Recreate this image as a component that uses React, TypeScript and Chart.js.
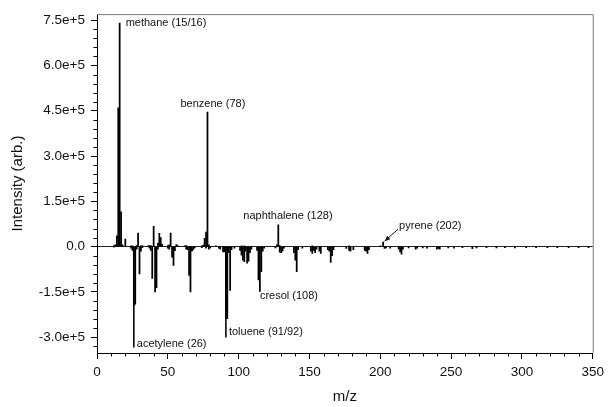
import React, { useEffect, useRef } from "react";
import { Chart, registerables } from "chart.js";

Chart.register(...registerables);

// ---- Data ----
// Upper spectrum (positive intensities)
const UPPER_MZ = [12, 13, 14, 15, 16, 17, 18, 20, 24, 25, 28, 29, 31, 32, 36, 37, 38, 40, 43, 44, 45, 46, 50, 51, 52, 56, 57, 62, 63, 74, 75, 76, 77, 78, 79, 84, 102, 104, 127, 128, 129, 152, 178, 200, 202];
const UPPER_VALUES = [4000, 6000, 36000, 460000, 740000, 115000, 6000, 25000, 3000, 3000, 4000, 45000, 3000, 4000, 3000, 4000, 4000, 67000, 12000, 44000, 30000, 8000, 4000, 6000, 45000, 7000, 4000, 3000, 4000, 3000, 5000, 28000, 48000, 446000, 6000, 3000, 3000, 3000, 6000, 72000, 4000, 3000, 3000, 3000, 15000];

// Lower spectrum (inverted, negative intensities)
const LOWER_MZ = [12, 24, 25, 26, 27, 28, 30, 31, 32, 37, 38, 39, 41, 42, 43, 50, 51, 53, 54, 55, 63, 64, 65, 66, 67, 68, 69, 74, 77, 79, 80, 86, 87, 89, 90, 91, 92, 93, 94, 95, 97, 101, 102, 103, 104, 105, 106, 107, 108, 109, 113, 114, 115, 116, 117, 118, 126, 129, 130, 131, 132, 139, 140, 141, 142, 145, 151, 152, 153, 154, 155, 157, 158, 163, 164, 165, 166, 167, 176, 178, 179, 181, 189, 190, 191, 192, 203, 204, 207, 213, 214, 215, 216, 220, 225, 226, 230, 233, 240, 241, 242, 248, 252, 258, 265, 268, 275, 282, 288, 295, 303, 310, 318, 325, 333, 340, 347];
const LOWER_VALUES = [-2000, -5000, -12000, -195000, -190000, -8000, -90000, -15000, -3000, -5000, -12000, -105000, -150000, -136000, -8000, -5000, -8000, -35000, -62000, -13000, -8000, -10000, -95000, -150000, -15000, -10000, -4000, -3000, -5000, -8000, -4000, -5000, -8000, -17000, -17000, -238000, -238000, -20000, -145000, -10000, -5000, -12000, -28000, -45000, -50000, -15000, -55000, -48000, -20000, -8000, -12000, -110000, -148000, -83000, -15000, -5000, -4000, -18000, -20000, -15000, -5000, -20000, -45000, -83000, -10000, -5000, -15000, -22000, -12000, -20000, -8000, -15000, -22000, -10000, -15000, -52000, -30000, -10000, -6000, -12000, -15000, -10000, -12000, -15000, -22000, -10000, -6000, -4000, -5000, -8000, -17000, -25000, -8000, -4000, -8000, -5000, -4000, -5000, -8000, -6000, -8000, -4000, -5000, -3000, -7000, -4000, -3000, -4000, -3000, -4000, -3000, -3000, -3000, -3000, -3000, -3000, -3000];

// Thin leader lines running from peaks to their labels
const LEADER_MZ = [26, 91];
const LEADER_VALUES = [-333000, -300000];

// Peak annotations
const LABEL_TEXT = ["methane (15/16)", "benzene (78)", "naphthalene (128)", "cresol (108)", "toluene (91/92)", "acetylene (26)", "pyrene (202)"];
const LABEL_MZ = [16, 78, 128, 115, 91, 26, 202];
const LABEL_VALUE = [740000, 446000, 72000, -148000, -300000, -333000, 15000];

// Axis ticks
const X_TICKS = [0, 50, 100, 150, 200, 250, 300, 350];
const Y_TICKS = [-300000, -150000, 0, 150000, 300000, 450000, 600000, 750000];
const X_MIN = 0;
const X_MAX = 350;
const Y_MIN = -352000;
const Y_MAX = 770000;

// ---- Styles (kept apart from the data) ----
const FONT = '"Liberation Sans", Arial, Helvetica, sans-serif';
const LABEL_STYLE = [
  { dx: 6, dy: 0 },
  { dx: -27, dy: -8 },
  { dx: -35, dy: -9 },
  { dx: 0, dy: 5 },
  { dx: 3, dy: -5 },
  { dx: 3, dy: -3 },
  { dx: 16, dy: -16 },
];

const X_MINOR: number[] = [];
for (let v = X_MIN; v <= X_MAX; v += 10) if (v % 50 !== 0) X_MINOR.push(v);
const Y_MINOR: number[] = [];
for (let v = -330000; v <= Y_MAX; v += 30000) if (v % 150000 !== 0) Y_MINOR.push(v);

const decorations = {
  id: "decorations",
  afterDatasetsDraw(chart: any) {
    const { ctx, chartArea, scales } = chart;
    const x = scales.x;
    const y = scales.y;
    ctx.save();
    // frame: top and right in gray
    ctx.strokeStyle = "#7a7a7a";
    ctx.lineWidth = 1;
    ctx.beginPath();
    ctx.moveTo(chartArea.left, chartArea.top + 0.5);
    ctx.lineTo(chartArea.right + 0.5, chartArea.top + 0.5);
    ctx.lineTo(chartArea.right + 0.5, chartArea.bottom);
    ctx.stroke();
    // minor ticks
    ctx.strokeStyle = "#000";
    ctx.beginPath();
    for (const v of X_MINOR) {
      const px = Math.round(x.getPixelForValue(v)) + 0.5;
      ctx.moveTo(px, chartArea.bottom);
      ctx.lineTo(px, chartArea.bottom + 3.5);
    }
    for (const v of Y_MINOR) {
      const py = Math.round(y.getPixelForValue(v)) + 0.5;
      ctx.moveTo(chartArea.left - 3.5, py);
      ctx.lineTo(chartArea.left, py);
    }
    ctx.stroke();
    // labels
    ctx.font = `11px ${FONT}`;
    ctx.fillStyle = "#111";
    ctx.textBaseline = "middle";
    ctx.textAlign = "left";
    LABEL_TEXT.forEach((t, i) => {
      const px = x.getPixelForValue(LABEL_MZ[i]);
      const py = y.getPixelForValue(LABEL_VALUE[i]);
      ctx.fillText(t, px + LABEL_STYLE[i].dx, py + LABEL_STYLE[i].dy);
    });
    // pyrene arrow
    const pi = 6;
    const ax = x.getPixelForValue(LABEL_MZ[pi]) + 1.5;
    const ay = y.getPixelForValue(LABEL_VALUE[pi]) - 1;
    const sx = ax + 13.5;
    const sy = ay - 12;
    ctx.strokeStyle = "#111";
    ctx.beginPath();
    ctx.moveTo(sx, sy);
    ctx.lineTo(ax, ay);
    ctx.stroke();
    const ang = Math.atan2(ay - sy, ax - sx);
    const hl = 6;
    ctx.beginPath();
    ctx.moveTo(ax, ay);
    ctx.lineTo(ax - hl * Math.cos(ang - 0.4), ay - hl * Math.sin(ang - 0.4));
    ctx.lineTo(ax - hl * Math.cos(ang + 0.4), ay - hl * Math.sin(ang + 0.4));
    ctx.closePath();
    ctx.fillStyle = "#111";
    ctx.fill();
    ctx.restore();
  },
};

export default function App() {
  const canvasRef = useRef<HTMLCanvasElement | null>(null);

  useEffect(() => {
    const canvas = canvasRef.current;
    if (!canvas) return;
    const toPoints = (xs: number[], ys: number[]) => xs.map((v, i) => ({ x: v, y: ys[i] }));
    const chart = new Chart(canvas, {
      type: "bar",
      data: {
        datasets: [
          {
            label: "upper",
            data: toPoints(UPPER_MZ, UPPER_VALUES),
            backgroundColor: "#000",
            borderWidth: 0,
            barThickness: 1.1,
            grouped: false,
          } as any,
          {
            label: "lower",
            data: toPoints(LOWER_MZ, LOWER_VALUES),
            backgroundColor: "#000",
            borderWidth: 0,
            barThickness: 1.1,
            grouped: false,
          } as any,
          {
            label: "leader",
            data: toPoints(LEADER_MZ, LEADER_VALUES),
            backgroundColor: "#000",
            borderWidth: 0,
            barThickness: 0.9,
            grouped: false,
          } as any,
        ],
      },
      options: {
        responsive: false,
        animation: false,
        events: [],
        layout: { padding: { top: 14, right: 12, left: 0, bottom: 0 } },
        plugins: { legend: { display: false }, tooltip: { enabled: false } },
        scales: {
          x: {
            type: "linear",
            min: X_MIN,
            max: X_MAX,
            offset: false,
            afterBuildTicks: (scale: any) => {
              scale.ticks = X_TICKS.map((v) => ({ value: v }));
            },
            afterFit: (scale: any) => {
              scale.height = 54;
            },
            grid: { drawOnChartArea: false, offset: false, tickLength: 6, tickColor: "#000" },
            border: { color: "#000", width: 1 },
            ticks: {
              maxRotation: 0,
              autoSkip: false,
              padding: 5,
              color: "#111",
              font: { family: FONT, size: 13.5 },
            },
            title: {
              display: true,
              text: "m/z",
              color: "#111",
              font: { family: FONT, size: 15 },
              padding: { top: 0, bottom: 1 },
            },
          },
          y: {
            type: "linear",
            min: Y_MIN,
            max: Y_MAX,
            afterBuildTicks: (scale: any) => {
              scale.ticks = Y_TICKS.map((v) => ({ value: v }));
            },
            afterFit: (scale: any) => {
              scale.width = 97;
            },
            grid: {
              color: (c: any) => (c.tick && c.tick.value === 0 ? "#222" : "rgba(0,0,0,0)"),
              tickColor: "#000",
              tickLength: 6,
            },
            border: { color: "#000", width: 1 },
            ticks: {
              padding: 6,
              color: "#111",
              font: { family: FONT, size: 13.5 },
              callback: (v: any) => (Number(v) === 0 ? "0.0" : Number(v).toExponential(1)),
            },
            title: {
              display: true,
              text: "Intensity (arb.)",
              color: "#111",
              font: { family: FONT, size: 15 },
              padding: { top: 9, bottom: 0 },
            },
          },
        },
      },
      plugins: [decorations],
    });
    return () => chart.destroy();
  }, []);

  return (
    <div style={{ position: "absolute", left: 0, top: 0, width: 609, height: 407, background: "#fff" }}>
      <canvas ref={canvasRef} width={609} height={407} style={{ display: "block" }} />
    </div>
  );
}
